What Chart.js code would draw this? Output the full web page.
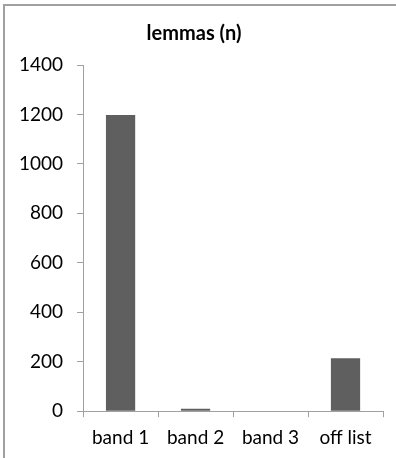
<!DOCTYPE html>
<html lang="en">
<head>
<meta charset="UTF-8">
<title>lemmas (n)</title>
<script src="https://cdn.jsdelivr.net/npm/chart.js"></script>
<style>
  body { margin: 0; background: #fff; }
  .frame {
    position: absolute;
    left: 3px; top: 4px;
    width: 393px; height: 454px;
    border-top: 2px solid #a0a0a0;
    border-left: 2px solid #a0a0a0;
    box-sizing: border-box;
  }
  .wrap { position: absolute; left: 0; top: 0; width: 396px; height: 458px; }
</style>
</head>
<body>
<div class="frame"></div>
<div class="wrap"><canvas id="chart"></canvas></div>
<script>
// data
const categories = ['band 1', 'band 2', 'band 3', 'off list'];
const lemmas = [1198, 10, 2, 214];
const yTicks = [0, 200, 400, 600, 800, 1000, 1200, 1400];

const fontFamily = 'Lato, "Open Sans", sans-serif';

new Chart(document.getElementById('chart'), {
  type: 'bar',
  data: {
    labels: categories,
    datasets: [{
      label: 'lemmas (n)',
      data: lemmas,
      backgroundColor: '#5f5f5f',
      borderWidth: 0,
      categoryPercentage: 1,
      barPercentage: 0.39
    }]
  },
  options: {
    responsive: true,
    maintainAspectRatio: false,
    animation: false,
    layout: { padding: { left: 5, right: 13, top: 22, bottom: 0 } },
    plugins: {
      legend: { display: false },
      tooltip: { enabled: false },
      title: {
        display: true,
        text: 'lemmas (n)',
        color: '#000',
        font: { family: fontFamily, size: 20, weight: 'bold' },
        padding: { top: 0, bottom: 19 }
      }
    },
    scales: {
      x: {
        grid: {
          display: true,
          drawOnChartArea: false,
          drawTicks: true,
          tickLength: 6,
          offset: true,
          color: '#a0a0a0'
        },
        border: { display: true, color: '#a0a0a0', width: 1 },
        ticks: {
          color: '#000',
          font: { family: fontFamily, size: 19 },
          padding: 9,
          maxRotation: 0
        }
      },
      y: {
        min: 0,
        max: 1400,
        afterBuildTicks: axis => { axis.ticks = yTicks.map(v => ({ value: v })); },
        grid: {
          display: true,
          drawOnChartArea: false,
          drawTicks: true,
          tickLength: 6,
          color: '#a0a0a0'
        },
        border: { display: true, color: '#a0a0a0', width: 1 },
        ticks: {
          color: '#000',
          font: { family: fontFamily, size: 19 },
          padding: 14,
          callback: v => String(v)
        }
      }
    }
  }
});
</script>
</body>
</html>
